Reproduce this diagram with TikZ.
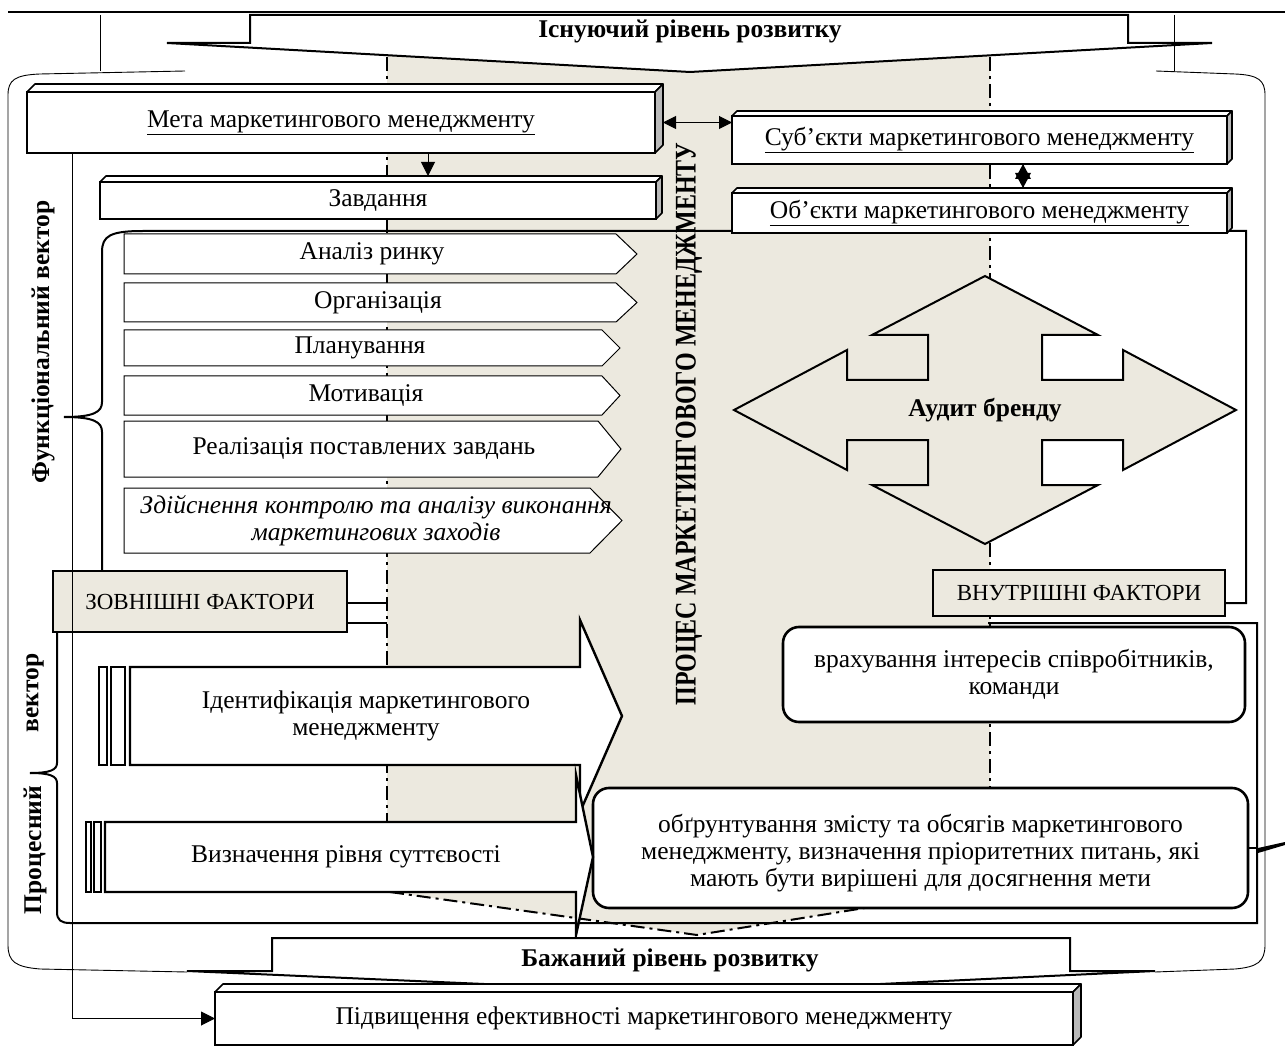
\documentclass[tikz,border=0pt]{standalone}
\usepackage{fontspec}
\usepackage{graphicx}
\setmainfont{Liberation Serif}
\usetikzlibrary{arrows.meta,calc}
\definecolor{beige}{RGB}{236,233,223}
\definecolor{sidegray}{RGB}{185,185,185}
\newcommand\cubefaces[2]{%
  \draw[line width=1.6pt,fill=white,line join=round] (#1.north west) -- ++(#2,-#2) -- ($(#1.north east)+(#2,-#2)$) -- (#1.north east) -- cycle;
  \draw[line width=1.6pt,fill=sidegray,line join=round] (#1.north east) -- ++(#2,-#2) -- ($(#1.south east)+(#2,-#2)$) -- (#1.south east) -- cycle;}
\newcommand\pentbox[7]{%
  \draw[pent] (124,#2) -- (#4,#2) -- (#5,{(#2+#3)/2}) -- (#4,#3) -- (124,#3) -- cycle;
  \node[lbl] (#1) at (#6,{(#2+#3)/2}) {#7};}
\begin{document}
\begin{tikzpicture}[x=1pt,y=-1pt,
  base/.style={font=\fontsize{25.5}{27}\selectfont},
  lbl/.style={inner sep=0pt,align=center,base},
  bfl/.style={inner sep=0pt,align=center,font=\fontsize{25.5}{27}\selectfont\bfseries},
  bx/.style={draw,line width=1.6pt,fill=white,inner sep=0pt,outer sep=0pt,align=center,base},
  fct/.style={draw,line width=2.2pt,fill=beige,inner sep=0pt,outer sep=0pt,font=\fontsize{23}{25}\selectfont},
  rbx/.style={draw,line width=2.6pt,fill=white,rounded corners=16pt,inner sep=0pt,outer sep=0pt,align=center,base},
  thinln/.style={line width=0.9pt},
  thk/.style={line width=2pt},
  ddash/.style={line width=2pt,dash pattern=on 14pt off 5pt on 3pt off 5pt},
  pent/.style={draw,line width=1pt,fill=white},
  arrowhd/.style={line width=1pt,-{Triangle[length=14pt,width=14pt]}},
  dblhd/.style={line width=1pt,{Triangle[length=13pt,width=13pt]}-{Triangle[length=13pt,width=13pt]}},
]
\useasboundingbox (0,0) rectangle (1285,1048);

% shaded band
\fill[beige] (387,40) -- (990,40) -- (990,850) -- (877,906) -- (697,935) -- (390,892) -- (387,892) -- cycle;
\coordinate (dl) at (387,57);
\coordinate (dr) at (990,57);
\draw[ddash] (dl) -- (387,892);
\draw[ddash] (dr) -- (990,790);
\draw[ddash] (390,892) -- (697,935) -- (877,906);

% top rule and outer brackets
\draw[thk] (8,12) -- (1285,12);
\draw[thinln] (100,15) -- (100,71);
\draw[thinln] (1174,15) -- (1174,71);
\draw[thinln] (185,71) -- (40,74) .. controls (15,75) and (8,80) .. (8,95) -- (8,945) .. controls (8,962) and (16,967) .. (40,969) -- (187,972);
\draw[thinln] (1156,71) -- (1235,74) .. controls (1258,75) and (1265,80) .. (1265,95) -- (1265,945) .. controls (1265,962) and (1257,967) .. (1235,969) -- (1155,972);

% top arrow
\draw[thk,fill=white] (250,15) -- (1128,15) -- (1128,43) -- (1212,43) -- (690,72) -- (167,43) -- (250,43) -- cycle;
\node[bfl] (exist) at (690,31) {Існуючий рівень розвитку};

% thin line from goal to final box
\coordinate (vx) at (72,153);

% vertical labels
\node[bfl,rotate=90] (fv) at (43,342) {Функціональний вектор};
\node[bfl,rotate=90] (vv) at (35,693) {вектор};
\node[bfl,rotate=90] (pv) at (35,850) {Процесний};
\node[rotate=90,inner sep=0pt,font=\fontsize{30}{30}\selectfont\bfseries] (proc) at (689,424) {\scalebox{0.8}[1]{ПРОЦЕС МАРКЕТИНГОВОГО МЕНЕДЖМЕНТУ}};

\node[fct,minimum width=292pt,minimum height=46pt] (vnut) at (1079,593) {ВНУТРІШНІ ФАКТОРИ};

% functional brace and frame
\draw[thk] ([yshift=-10pt]vnut.east) -- (1246,603) -- (1246,231) -- (143,231) .. controls (110,231) and (102,236) .. (102,252) -- (102,402) .. controls (102,412) and (94,417) .. (64,417);
\draw[thk] (64,417) .. controls (94,417) and (102,422) .. (102,432) -- (102,571);

% process brace and frame
\draw[thk] (57,632) -- (57,763) .. controls (57,770) and (50,773) .. (30,773);
\draw[thk] (30,773) .. controls (50,773) and (57,776) .. (57,783) -- (57,912) .. controls (57,920) and (61,923) .. (70,923) -- (1257,923) -- (1257,623) -- (988,623);
\draw[thk] (387,623) -- (347,623);

% goal box etc.
\node[bx,minimum width=628pt,minimum height=61pt] (meta) at (341,122.5) {\underline{Мета маркетингового менеджменту}};
\cubefaces{meta}{8}
\draw[line width=1pt] (vx) -- (72,990);
\node[bx,minimum width=556pt,minimum height=37pt] (zav) at (378,200.5) {Завдання};
\cubefaces{zav}{6}
\node[bx,minimum width=495pt,minimum height=48pt] (sub) at (979.5,140) {\underline{Суб’єкти маркетингового менеджменту}};
\cubefaces{sub}{5}
\node[bx,minimum width=495pt,minimum height=40pt] (ob) at (979.5,213) {\underline{Об’єкти маркетингового менеджменту}};
\cubefaces{ob}{5}

% functions
\pentbox{f1}{234}{274}{616}{637}{372}{Аналіз ринку}
\pentbox{f2}{283}{322}{616}{637}{378}{Організація}
\pentbox{f3}{330}{366}{602}{620}{360}{Планування}
\pentbox{f4}{376}{415}{602}{620}{366}{Мотивація}
\pentbox{f5}{421}{477}{598}{621}{364}{Реалізація поставлених завдань}
\pentbox{f6}{488}{553}{590}{622}{376}{\itshape Здійснення контролю та аналізу виконання\\\itshape маркетингових заходів}

% brand audit quad arrow
\draw[line width=2pt,fill=beige] (985,276) -- (1098,335) -- (1042,335) -- (1042,380) -- (1123,380) -- (1123,350) -- (1236,410) -- (1123,470) -- (1123,440) -- (1042,440) -- (1042,485) -- (1098,485) -- (985,544) -- (872,485) -- (928,485) -- (928,440) -- (847,440) -- (847,470) -- (734,410) -- (847,350) -- (847,380) -- (928,380) -- (928,335) -- (872,335) -- cycle;
\node[bfl] (audit) at (985,410) {Аудит бренду};

% factors
\node[fct,minimum width=294pt,minimum height=61pt] (zov) at (200,601.5) {ЗОВНІШНІ ФАКТОРИ};
\draw[thk] ([yshift=-1.5pt]zov.east) -- ([yshift=-1.5pt]zov.east -| dl);

% rounded boxes
\node[rbx,minimum width=462pt,minimum height=95pt] (vrah) at (1014,674.5) {врахування інтересів співробітників,\\команди};
\node[rbx,minimum width=655pt,minimum height=120pt] (obgr) at (920.5,848) {};
\node[lbl] (obgrtxt) at (920.5,853) {обґрунтування змісту та обсягів маркетингового\\менеджменту, визначення пріоритетних питань, які\\мають бути вирішені для досягнення мети};
\draw[ddash,line width=1.5pt] (obgr.east) -- (1257,848);
\fill (1258,848) -- (1285,842) -- (1285,845) -- (1258,853) -- cycle;

% striped arrows
\draw[line width=2.4pt,fill=white] (130,667) -- (580,667) -- (580,620) -- (622,716) -- (580,812) -- (580,765) -- (130,765) -- cycle;
\draw[line width=2pt,fill=white] (99,667) rectangle (107,765);
\draw[line width=2pt,fill=white] (111,667) rectangle (125,765);
\node[lbl] (ident) at (366,716) {Ідентифікація маркетингового\\менеджменту};
\draw[line width=2.4pt,fill=white] (105,822) -- (576,822) -- (576,775) -- (593,857) -- (576,935) -- (576,892) -- (105,892) -- cycle;
\draw[line width=2pt,fill=white] (86,822) rectangle (91,892);
\draw[line width=2pt,fill=white] (94,822) rectangle (101,892);
\node[lbl] (vyzn) at (346,857) {Визначення рівня суттєвості};

% bottom arrow
\draw[thk,fill=white] (272,938) -- (1070,938) -- (1070,971) -- (1155,971) -- (690,993) -- (187,971) -- (272,971) -- cycle;
\node[bfl] (desired) at (670,960) {Бажаний рівень розвитку};

% final box
\node[bx,minimum width=858pt,minimum height=53pt] (pid) at (644,1018.5) {Підвищення ефективності маркетингового менеджменту};
\cubefaces{pid}{8}

% connectors
\draw[arrowhd] (vx) |- (pid.west);
\coordinate (mz) at (428,0);
\coordinate (zt) at ([yshift=6pt]zav.north);
\draw[arrowhd] (meta.south -| mz) -- (zt -| mz);
\draw[dblhd] ([xshift=8pt]meta.east) -- (sub.west |- meta.east);
\coordinate (sz) at (1023,0);
\coordinate (ot) at ([yshift=5pt]ob.north);
\coordinate (s1) at (sub.south -| sz);
\coordinate (s2) at (ot -| sz);
\draw[line width=1pt] (s1) -- (s2);
\fill (s1) -- ($(s1)+(-8,15)$) -- ($(s1)+(8,15)$) -- cycle;
\fill (s2) -- ($(s2)+(-8,-15)$) -- ($(s2)+(8,-15)$) -- cycle;
\end{tikzpicture}
\end{document}
